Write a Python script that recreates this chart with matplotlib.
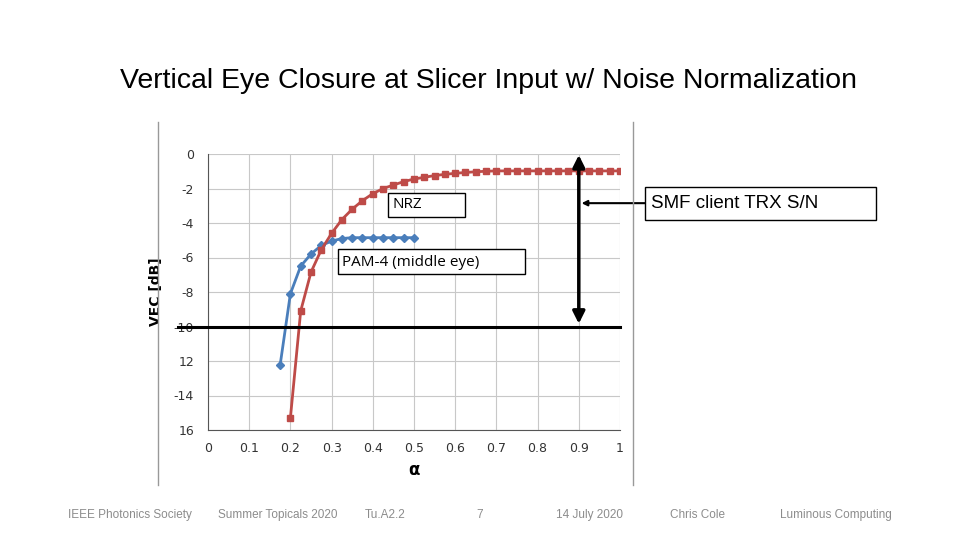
import matplotlib
matplotlib.use("Agg")
import matplotlib.pyplot as plt
from matplotlib.patches import Rectangle

pam_x = [0.175, 0.2, 0.225, 0.25, 0.275, 0.3, 0.325, 0.35, 0.375, 0.4, 0.425, 0.45, 0.475, 0.5]
pam_y = [-12.25, -8.1, -6.5, -5.8, -5.3, -5.05, -4.9, -4.85, -4.85, -4.85, -4.85, -4.85, -4.85, -4.85]
nrz_x = [0.2 + 0.025 * i for i in range(33)]
nrz_y = [-15.3, -9.1, -6.85, -5.55, -4.6, -3.8, -3.2, -2.7, -2.3, -2.0, -1.8, -1.6, -1.45,
         -1.35, -1.25, -1.18, -1.12, -1.07, -1.03, -1.0, -0.98, -0.98, -0.98, -0.98, -0.98,
         -0.98, -0.98, -0.98, -0.98, -0.98, -0.98, -0.98, -0.98]
yticks = [0, -2, -4, -6, -8, -10, -12, -14, -16]
ytick_labels = ["0", "-2", "-4", "-6", "-8", "-10", "12", "-14", "16"]
xticks = [0, 0.1, 0.2, 0.3, 0.4, 0.5, 0.6, 0.7, 0.8, 0.9, 1]
xtick_labels = ["0", "0.1", "0.2", "0.3", "0.4", "0.5", "0.6", "0.7", "0.8", "0.9", "1"]
footer = ["IEEE Photonics Society", "Summer Topicals 2020", "Tu.A2.2", "7",
          "14 July 2020", "Chris Cole", "Luminous Computing"]
footer_x = [130, 278, 385, 480, 590, 698, 836]

W, H = 960, 540
fig = plt.figure(figsize=(9.6, 5.4), dpi=100)
fig.text(488 / W, 1 - 81 / H, "Vertical Eye Closure at Slicer Input w/ Noise Normalization",
         ha="center", va="center", fontsize=20.5, family="Liberation Sans")
for t, x in zip(footer, footer_x):
    fig.text(x / W, 1 - 515 / H, t, ha="center", va="center", fontsize=8.5,
             color="#8c8c8c", family="Liberation Sans")
fig.add_artist(plt.Line2D([158 / W, 158 / W], [1 - 122 / H, 1 - 485 / H], color="#999999", lw=1))
fig.add_artist(plt.Line2D([633 / W, 633 / W], [1 - 122 / H, 1 - 485 / H], color="#999999", lw=1))

ax = fig.add_axes([208 / W, 1 - 430 / H, 412 / W, 276 / H])
ax.set_xlim(0, 1)
ax.set_ylim(-16, 0)
ax.set_xticks(xticks)
ax.set_xticklabels(xtick_labels, fontsize=9, color="#333333")
ax.set_yticks(yticks)
ax.set_yticklabels(ytick_labels, fontsize=9, color="#333333")
ax.tick_params(axis="y", length=0, pad=10)
ax.tick_params(axis="x", length=0, pad=9)
ax.grid(True, color="#c8c8c8", lw=0.8)
for s in ["top", "right"]:
    ax.spines[s].set_visible(False)
ax.spines["left"].set_color("#555555")
ax.spines["bottom"].set_color("#555555")
ax.set_xlabel("α", fontsize=12, fontweight="bold", labelpad=4)
ax.set_ylabel("VEC [dB]", fontsize=10, fontweight="bold", labelpad=8)

ax.plot(pam_x, pam_y, color="#4a7ebb", lw=2, marker="D", ms=4.5, zorder=3)
ax.plot(nrz_x, nrz_y, color="#be4b48", lw=2, marker="s", ms=4.5, zorder=4)

ax.plot([-0.073, 1], [-10, -10], color="black", lw=2.2, clip_on=False, zorder=5)
ax.annotate("", xy=(0.9, 0.1), xytext=(0.9, -10.0),
            arrowprops=dict(arrowstyle="<|-|>", color="black", lw=2.5, mutation_scale=18),
            annotation_clip=False, zorder=6)
ax.annotate("", xy=(0.9, -2.85), xytext=(1.072, -2.85),
            arrowprops=dict(arrowstyle="-|>", color="black", lw=1.5, mutation_scale=8),
            annotation_clip=False, zorder=6)

# label boxes
for (x0, y0, x1, y1) in [(388, 193, 465, 217), (338, 249, 525, 274), (645, 187, 876, 220)]:
    fig.add_artist(Rectangle((x0 / W, 1 - y1 / H), (x1 - x0) / W, (y1 - y0) / H,
                             transform=fig.transFigure, fc="white", ec="black", lw=1, zorder=7))
fig.text(392 / W, 1 - 205 / H, "NRZ", fontsize=11, family="Open Sans", va="center", zorder=8)
fig.text(342 / W, 1 - 262 / H, "PAM-4 (middle eye)", fontsize=11, family="Open Sans", va="center", zorder=8)
fig.text(651 / W, 1 - 203 / H, "SMF client TRX S/N", fontsize=13.5, family="Liberation Sans",
         va="center", zorder=8)

fig.savefig("out.png", dpi=100)
